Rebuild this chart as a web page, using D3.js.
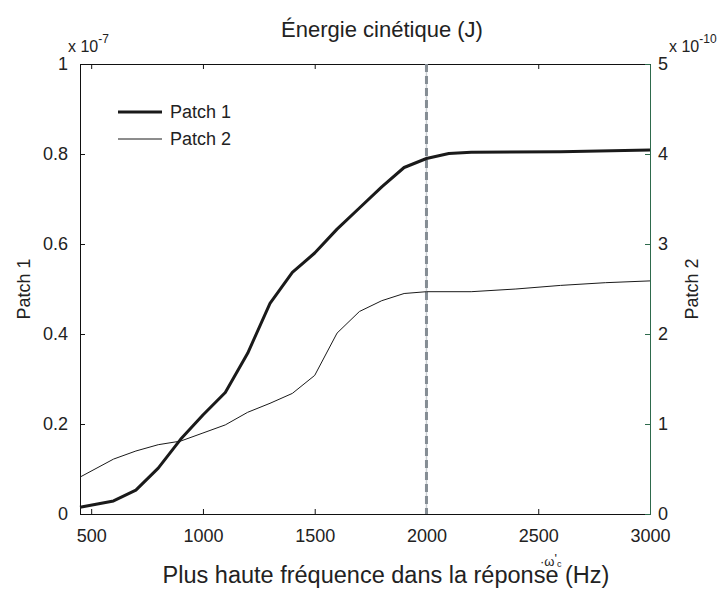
<!DOCTYPE html>
<html>
<head>
<meta charset="utf-8">
<script src="https://cdn.jsdelivr.net/npm/d3@7"></script>
<style>
  body { margin: 0; background: #fff; }
  text { font-family: "Liberation Sans", Arial, sans-serif; fill: #222; }
</style>
</head>
<body>
<div id="visualization"></div>
<script>
// frequencies (Hz)
var freq1 = [450, 600, 700, 800, 900, 1000, 1100, 1200, 1300, 1400, 1500, 1600, 1700, 1800, 1900, 2000, 2100, 2200, 2600, 3000];
// Patch 1 kinetic energy (x 1e-7 J)
var patch1 = [0.015, 0.029, 0.053, 0.102, 0.166, 0.22, 0.27, 0.357, 0.468, 0.537, 0.58, 0.633, 0.68, 0.727, 0.77, 0.79, 0.801, 0.804, 0.805, 0.809];
var freq2 = [450, 600, 700, 800, 900, 1000, 1100, 1200, 1300, 1400, 1500, 1600, 1700, 1800, 1900, 2000, 2200, 2400, 2600, 2800, 3000];
// Patch 2 kinetic energy (x 1e-10 J)
var patch2 = [0.41, 0.61, 0.70, 0.77, 0.81, 0.90, 0.99, 1.13, 1.23, 1.34, 1.54, 2.01, 2.25, 2.37, 2.45, 2.47, 2.47, 2.50, 2.54, 2.57, 2.59];
var xTicks = [500, 1000, 1500, 2000, 2500, 3000];
var leftTicks = [0, 0.2, 0.4, 0.6, 0.8, 1];
var rightTicks = [0, 1, 2, 3, 4, 5];
var cutoff = 2000;

var margin = {top: 64, right: 76, bottom: 75, left: 80},
    width = 726 - margin.left - margin.right,
    height = 589 - margin.top - margin.bottom;

var svg = d3.select("#visualization").append("svg")
    .attr("width", 726)
    .attr("height", 589);

var canvas = svg.append("g")
    .attr("transform", "translate(" + margin.left + "," + margin.top + ")");

var xScale = d3.scaleLinear().domain([450, 3000]).range([0, width]);
var yLeft = d3.scaleLinear().domain([0, 1]).range([height, 0]);
var yRight = d3.scaleLinear().domain([0, 5]).range([height, 0]);

// axes, matlab style: ticks pointing inward
var xAxis = d3.axisBottom(xScale).tickValues(xTicks).tickSize(-5).tickPadding(15).tickFormat(d3.format("d"));
var xTop = d3.axisTop(xScale).tickValues(xTicks).tickSize(-5).tickFormat("");
var leftAxis = d3.axisLeft(yLeft).tickValues(leftTicks).tickSize(-5).tickPadding(12)
    .tickFormat(function (d) { return d === 0 || d === 1 ? d : d.toFixed(1); });
var rightAxis = d3.axisRight(yRight).tickValues(rightTicks).tickSize(-5).tickPadding(8)
    .tickFormat(d3.format("d"));

canvas.append("g").attr("class", "x axis")
    .attr("transform", "translate(0," + height + ")")
    .call(xAxis);
canvas.append("g").attr("class", "x top").call(xTop);
canvas.append("g").attr("class", "y left").call(leftAxis);
canvas.append("g").attr("class", "y right")
    .attr("transform", "translate(" + width + ",0)")
    .call(rightAxis);

canvas.selectAll(".domain").attr("stroke", "#111");
canvas.selectAll(".tick line").attr("stroke", "#111");
canvas.select(".y.right .domain").attr("stroke", "#2e6a4c");
canvas.selectAll(".y.right .tick line").attr("stroke", "#2e6a4c");
canvas.selectAll(".tick text")
    .style("font-size", "18px")
    .attr("fill", "#222");

// cutoff frequency marker
canvas.append("line")
    .attr("x1", xScale(cutoff)).attr("x2", xScale(cutoff))
    .attr("y1", 0).attr("y2", height)
    .attr("stroke", "#c9ced2").attr("stroke-width", 1.5);
canvas.append("line")
    .attr("x1", xScale(cutoff)).attr("x2", xScale(cutoff))
    .attr("y1", 0).attr("y2", height)
    .attr("stroke", "#858d94").attr("stroke-width", 3)
    .attr("stroke-dasharray", "8,4");

var line1 = d3.line()
    .x(function (d, i) { return xScale(freq1[i]); })
    .y(function (d) { return yLeft(d); });
var line2 = d3.line()
    .x(function (d, i) { return xScale(freq2[i]); })
    .y(function (d) { return yRight(d); });

canvas.append("path").datum(patch1)
    .attr("d", line1)
    .attr("fill", "none").attr("stroke", "#1a1a1a").attr("stroke-width", 3)
    .attr("stroke-linejoin", "round");
canvas.append("path").datum(patch2)
    .attr("d", line2)
    .attr("fill", "none").attr("stroke", "#1a1a1a").attr("stroke-width", 1);

// legend
var legend = canvas.append("g").attr("transform", "translate(38,48)");
legend.append("line").attr("x1", 0).attr("x2", 44).attr("y1", 0).attr("y2", 0)
    .attr("stroke", "#1a1a1a").attr("stroke-width", 3);
legend.append("text").attr("x", 52).attr("y", 6).style("font-size", "18px").text("Patch 1");
legend.append("line").attr("x1", 0).attr("x2", 44).attr("y1", 27).attr("y2", 27)
    .attr("stroke", "#1a1a1a").attr("stroke-width", 1);
legend.append("text").attr("x", 52).attr("y", 33).style("font-size", "18px").text("Patch 2");

// exponent labels
var expL = svg.append("text").attr("x", 68).attr("y", 52).style("font-size", "16px");
expL.append("tspan").text("x 10");
expL.append("tspan").attr("dy", -9).style("font-size", "12px").text("-7");
var expR = svg.append("text").attr("x", 669).attr("y", 52).style("font-size", "16px");
expR.append("tspan").text("x 10");
expR.append("tspan").attr("dy", -9).style("font-size", "12px").text("-10");

// titles
svg.append("text").attr("x", 382).attr("y", 37)
    .attr("text-anchor", "middle").style("font-size", "22px")
    .text("Énergie cinétique (J)");
svg.append("text").attr("x", 386).attr("y", 583)
    .attr("text-anchor", "middle").style("font-size", "23.5px")
    .text("Plus haute fréquence dans la réponse (Hz)");
var omega = svg.append("text").attr("x", 540).attr("y", 566).style("font-size", "13px");
omega.append("tspan").text("·ω");
omega.append("tspan").attr("dy", -3).text("'");
omega.append("tspan").attr("dy", 4).style("font-size", "9px").text("c");

svg.append("text")
    .attr("transform", "translate(30," + (margin.top + height / 2) + ") rotate(-90)")
    .attr("text-anchor", "middle").style("font-size", "18px")
    .text("Patch 1");
svg.append("text")
    .attr("transform", "translate(698," + (margin.top + height / 2) + ") rotate(-90)")
    .attr("text-anchor", "middle").style("font-size", "18px")
    .text("Patch 2");
</script>
</body>
</html>
